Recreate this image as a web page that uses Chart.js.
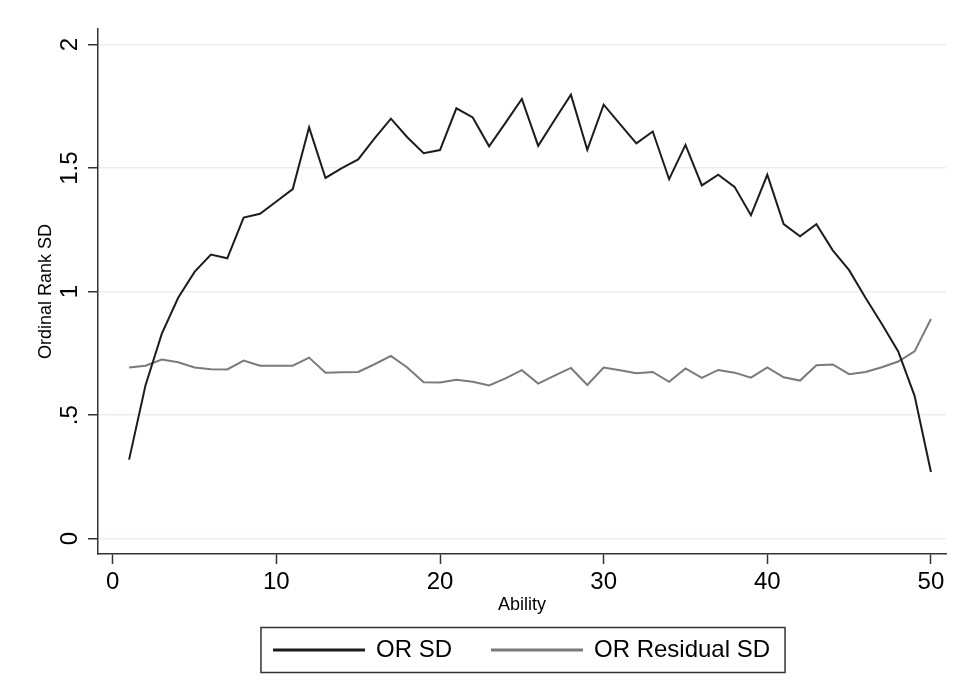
<!DOCTYPE html>
<html>
<head>
<meta charset="utf-8">
<title>Ordinal Rank SD by Ability</title>
<script src="https://cdn.jsdelivr.net/npm/chart.js@4.4.1/dist/chart.umd.min.js"></script>
<style>
  html, body { margin: 0; padding: 0; background: #fff; }
  #chartCanvas { display: block; }
</style>
</head>
<body>
<canvas id="chartCanvas" width="973" height="700"></canvas>
<script>
// values
const ability = [1, 2, 3, 4, 5, 6, 7, 8, 9, 10, 11, 12, 13, 14, 15, 16, 17, 18, 19, 20,
  21, 22, 23, 24, 25, 26, 27, 28, 29, 30, 31, 32, 33, 34, 35, 36, 37, 38, 39, 40,
  41, 42, 43, 44, 45, 46, 47, 48, 49, 50];
const orSD = [0.32, 0.62, 0.83, 0.975, 1.08, 1.15, 1.135, 1.30, 1.315, 1.365,
  1.415, 1.665, 1.46, 1.50, 1.535, 1.62, 1.70, 1.625, 1.56, 1.573,
  1.742, 1.705, 1.588, 1.683, 1.78, 1.59, 1.695, 1.797, 1.574, 1.757,
  1.678, 1.60, 1.648, 1.455, 1.594, 1.43, 1.473, 1.424, 1.309, 1.473,
  1.273, 1.224, 1.273, 1.167, 1.087, 0.975, 0.869, 0.758, 0.578, 0.27];
const orResidualSD = [0.693, 0.70, 0.725, 0.714, 0.693, 0.686, 0.685, 0.721, 0.70, 0.70,
  0.70, 0.733, 0.672, 0.674, 0.675, 0.706, 0.74, 0.693, 0.633, 0.632,
  0.643, 0.635, 0.62, 0.649, 0.682, 0.628, 0.66, 0.691, 0.622, 0.693,
  0.682, 0.67, 0.675, 0.635, 0.689, 0.651, 0.683, 0.672, 0.652, 0.693,
  0.653, 0.64, 0.702, 0.705, 0.666, 0.675, 0.694, 0.717, 0.758, 0.889];
const seriesNames = ["OR SD", "OR Residual SD"];
const xTicks = [0, 10, 20, 30, 40, 50];
const yTicks = [0, 0.5, 1, 1.5, 2];
const yTickLabels = ["0", ".5", "1", "1.5", "2"];

const FONT = "'Liberation Sans', Arial, sans-serif";
const AXIS = "#333333";

// stata draws y tick labels turned 90deg and boxes the legend
const stataExtras = {
  id: "stataExtras",
  afterDraw(chart) {
    const ctx = chart.ctx;
    const yScale = chart.scales.y;
    ctx.save();
    ctx.fillStyle = "#000";
    ctx.font = "24px " + FONT;
    ctx.textAlign = "center";
    ctx.textBaseline = "middle";
    yScale.ticks.forEach((t, i) => {
      ctx.save();
      ctx.translate(yScale.right - 28, yScale.getPixelForValue(t.value));
      ctx.rotate(-Math.PI / 2);
      ctx.fillText(yTickLabels[i], 0, 0);
      ctx.restore();
    });

    const boxes = chart.legend.legendHitBoxes;
    if (boxes && boxes.length) {
      const left = Math.min(...boxes.map(b => b.left)) - 13;
      const right = Math.max(...boxes.map(b => b.left + b.width)) + 15;
      const cy = boxes[0].top + boxes[0].height / 2;
      ctx.strokeStyle = AXIS;
      ctx.lineWidth = 1.5;
      ctx.strokeRect(left, cy - 22.5, right - left, 45);
    }
    ctx.restore();
  }
};

const ctx = document.getElementById("chartCanvas").getContext("2d");

new Chart(ctx, {
  type: "line",
  data: {
    datasets: [
      {
        label: seriesNames[0],
        data: ability.map((a, i) => ({ x: a, y: orSD[i] })),
        borderColor: "#1c1c1c",
        backgroundColor: "#1c1c1c",
        borderWidth: 2,
        pointRadius: 0,
        tension: 0,
      },
      {
        label: seriesNames[1],
        data: ability.map((a, i) => ({ x: a, y: orResidualSD[i] })),
        borderColor: "#7a7a7a",
        backgroundColor: "#7a7a7a",
        borderWidth: 2,
        pointRadius: 0,
        tension: 0,
      },
    ],
  },
  options: {
    responsive: false,
    animation: false,
    devicePixelRatio: 1,
    layout: { padding: { left: 30, right: 27, top: 29, bottom: 28 } },
    scales: {
      x: {
        type: "linear",
        min: -0.9,
        max: 50.92,
        afterBuildTicks: (axis) => { axis.ticks = xTicks.map(v => ({ value: v })); },
        afterFit: (axis) => { axis.height = 44; },
        grid: { drawOnChartArea: false, tickLength: 10, tickColor: AXIS, tickWidth: 1.5 },
        border: { color: AXIS, width: 1.5 },
        ticks: { color: "#000", padding: 4, font: { family: FONT, size: 24 }, maxRotation: 0 },
        title: {
          display: true,
          text: "Ability",
          color: "#000",
          font: { family: FONT, size: 18 },
          padding: { top: 0, bottom: -18 },
        },
      },
      y: {
        min: -0.062,
        max: 2.063,
        afterBuildTicks: (axis) => { axis.ticks = yTicks.map(v => ({ value: v })); },
        afterFit: (axis) => { axis.width = 68; },
        grid: { color: "#e6eff3", lineWidth: 1.5, tickLength: 10, tickColor: AXIS, tickWidth: 1.5 },
        border: { color: AXIS, width: 1.5 },
        ticks: { display: false },
        title: {
          display: true,
          text: "Ordinal Rank SD",
          color: "#000",
          font: { family: FONT, size: 18 },
          padding: { top: 5, bottom: 0 },
        },
      },
    },
    plugins: {
      legend: {
        position: "bottom",
        fullSize: false,
        labels: {
          color: "#000",
          font: { family: FONT, size: 24 },
          boxWidth: 90,
          boxHeight: 1,
          padding: 40,
        },
      },
      tooltip: { enabled: false },
    },
  },
  plugins: [stataExtras],
});
</script>
</body>
</html>
